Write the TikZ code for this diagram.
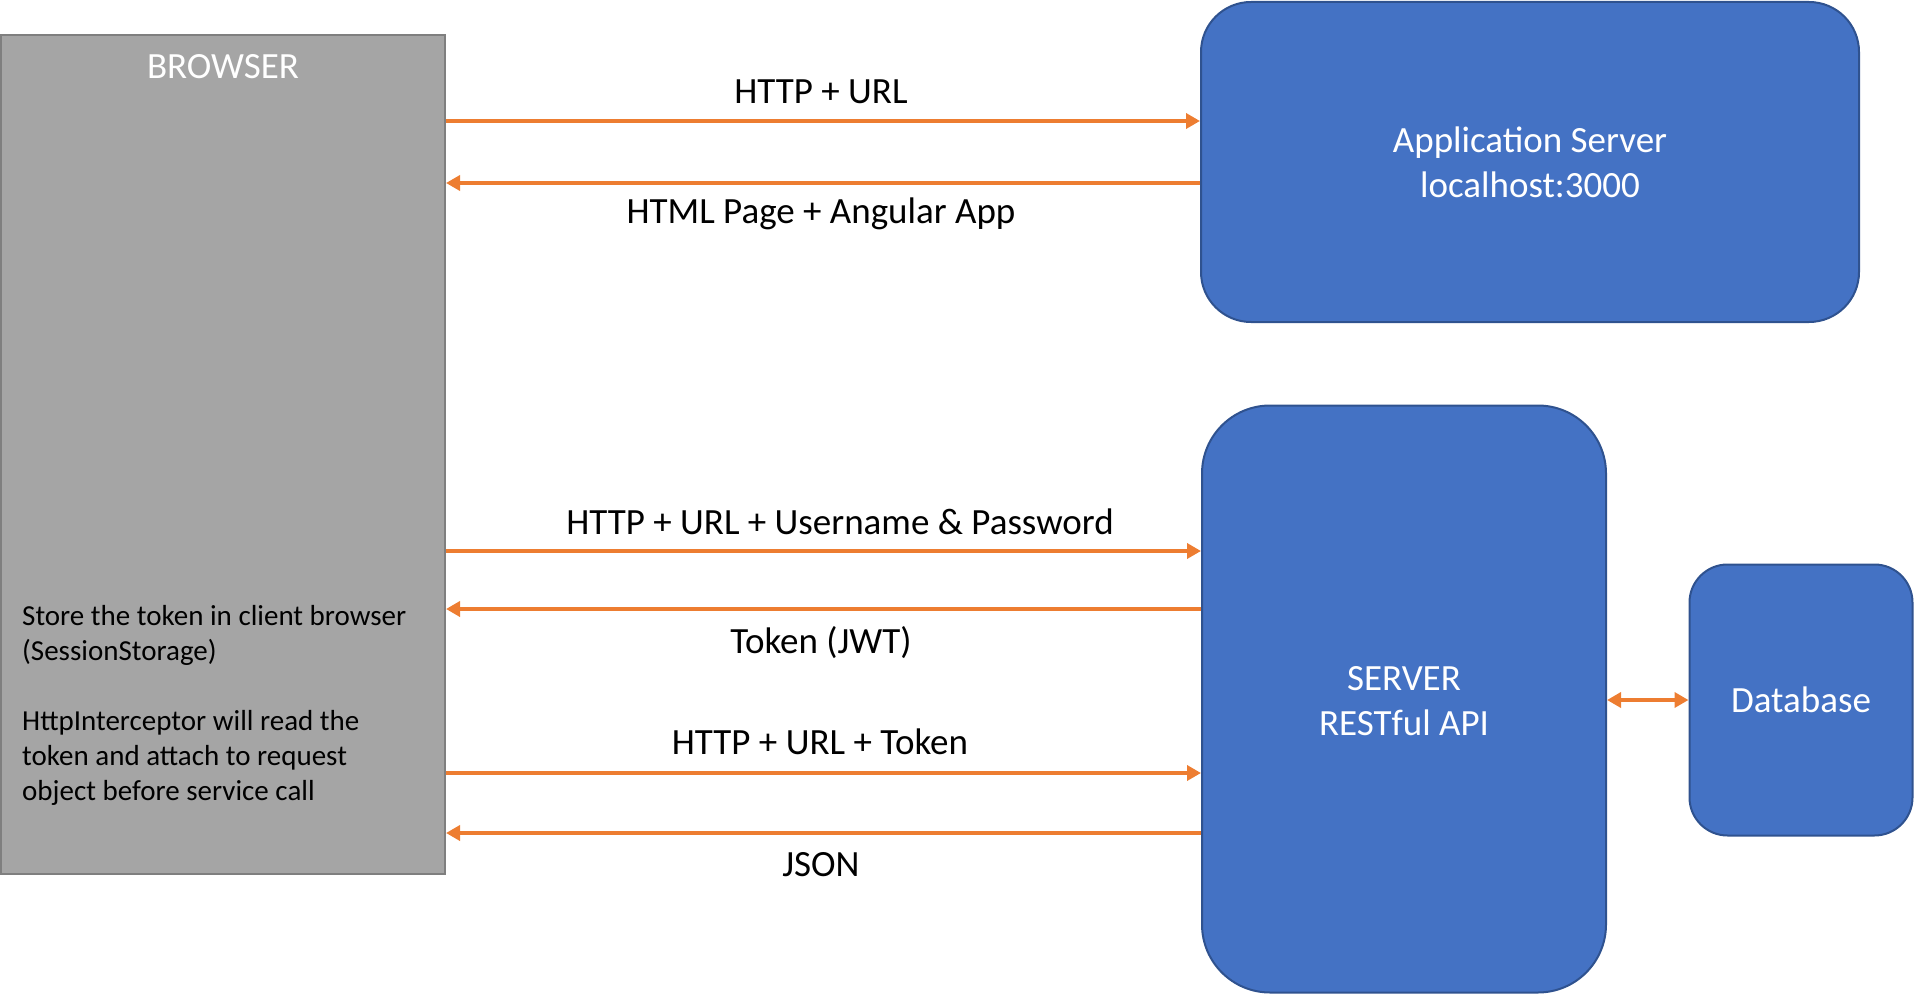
\documentclass[tikz,border=0pt]{standalone}
\usepackage{fontspec}
\setmainfont{Carlito}
\usetikzlibrary{arrows.meta}
\definecolor{boxblue}{HTML}{4472C4}
\definecolor{boxedge}{HTML}{2F528F}
\definecolor{browsergray}{HTML}{A5A5A5}
\definecolor{browseredge}{HTML}{7F7F7F}
\definecolor{flowc}{HTML}{ED7D31}
\begin{document}
\begin{tikzpicture}[x=1pt,y=-1pt,
  bluebox/.style={draw=boxedge, line width=2pt, fill=boxblue, text=white, align=center,
    font=\fontsize{37}{45}\selectfont, inner sep=0pt},
  flow/.style={draw=flowc, line width=4pt, -{Triangle[length=14pt,width=15pt]}},
  bothflow/.style={draw=flowc, line width=4pt, {Triangle[length=14pt,width=15pt]}-{Triangle[length=14pt,width=15pt]}},
  lbl/.style={font=\fontsize{37}{45}\selectfont, anchor=base, inner sep=0pt}]
\useasboundingbox (0,0) rectangle (1914,995);
% boxes
\node[draw=browseredge, line width=2pt, fill=browsergray, minimum width=444pt,
  minimum height=839pt, inner sep=0pt] (browser) at (223,454.5) {};
\node[lbl, text=white] (btitle) at (223,78.5) {BROWSER};
\node[anchor=north west, inner sep=0pt, align=left, font=\fontsize{29}{35}\selectfont] (notes) at (22,605)
  {Store the token in client browser\\(SessionStorage)\\[35pt]HttpInterceptor will read the\\token and attach to request\\object before service call};
\node[bluebox, rounded corners=50pt, minimum width=658pt, minimum height=320pt] (app) at (1530,162)
  {Application Server\\localhost:3000};
\node[bluebox, rounded corners=68pt, minimum width=404pt, minimum height=587pt] (server) at (1404,699)
  {\rule{0pt}{29pt}SERVER\\RESTful API};
\node[bluebox, rounded corners=38pt, minimum width=223pt, minimum height=271pt] (db) at (1801,700)
  {Database};
% arrow levels
\coordinate (y1) at (0,121);
\coordinate (y2) at (0,183);
\coordinate (y3) at (0,551);
\coordinate (y4) at (0,609);
\coordinate (y5) at (0,773);
\coordinate (y6) at (0,833);
\coordinate (y7) at (0,700);
% connectors
\draw[flow] (browser.east |- y1) -- (app.west |- y1);
\draw[flow] (app.west |- y2) -- (browser.east |- y2);
\draw[flow] (browser.east |- y3) -- (server.west |- y3);
\draw[flow] (server.west |- y4) -- (browser.east |- y4);
\draw[flow] (browser.east |- y5) -- (server.west |- y5);
\draw[flow] (server.west |- y6) -- (browser.east |- y6);
\draw[bothflow] (server.east |- y7) -- (db.west |- y7);
% labels
\node[lbl] (l1) at (821,104) {HTTP + URL};
\node[lbl] (l2) at (821,224) {HTML Page + Angular App};
\node[lbl] (l3) at (840,534) {HTTP + URL + Username \& Password};
\node[lbl] (l4) at (821,653) {Token (JWT)};
\node[lbl] (l5) at (820,754) {HTTP + URL + Token};
\node[lbl] (l6) at (821,876) {JSON};
\end{tikzpicture}
\end{document}
